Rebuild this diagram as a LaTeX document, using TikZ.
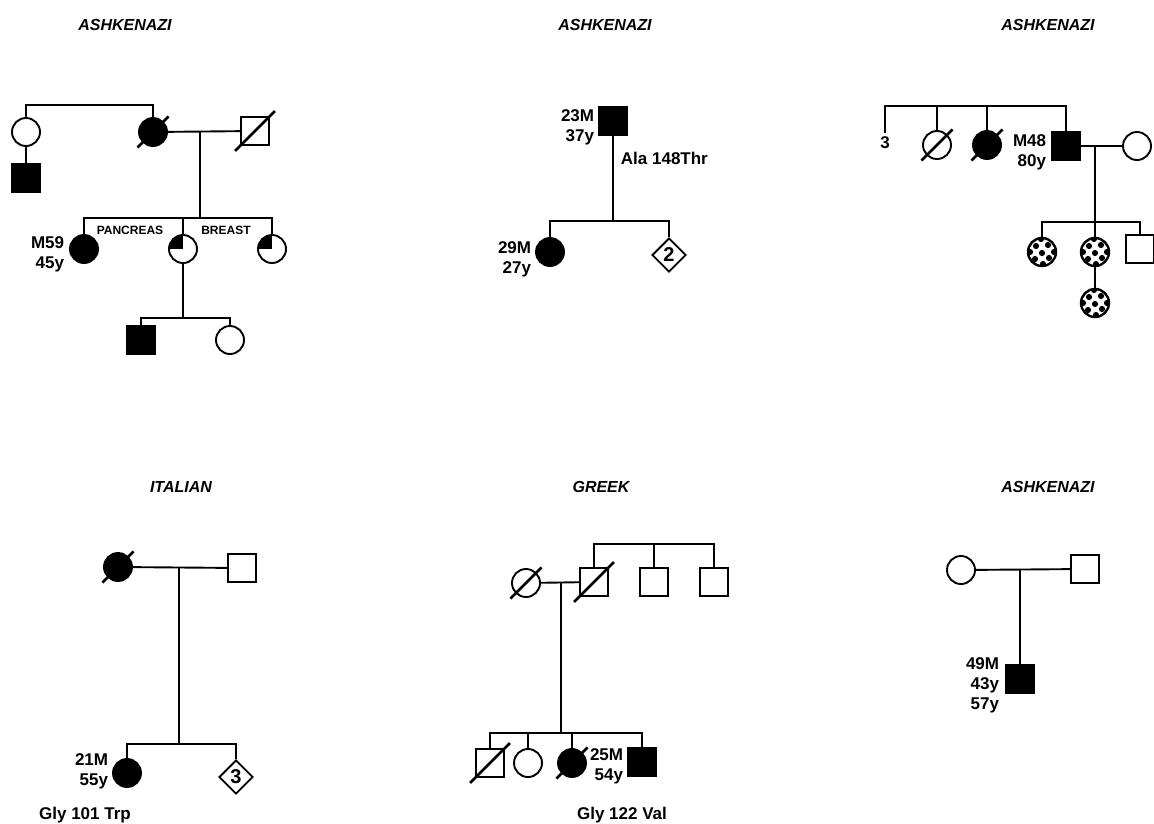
\documentclass[tikz,border=0pt]{standalone}
\usepackage{fontspec}
\setmainfont{Liberation Sans}
\usetikzlibrary{shapes.geometric,calc}
\newcommand{\dead}[1]{\draw[line width=2.6pt] ($(#1.south west)+(-5,5)$) -- ($(#1.north east)+(5,-5)$);}
\begin{document}
\begin{tikzpicture}[x=1pt,y=-1pt,line width=1.9pt,line cap=butt,
  male/.style={draw,rectangle,minimum size=28pt,inner sep=0pt,fill=white},
  fem/.style={draw,circle,minimum size=28pt,inner sep=0pt,fill=white},
  unk/.style={draw,diamond,minimum size=34pt,inner sep=0pt,fill=white,font=\bfseries\fontsize{20}{20}\selectfont},
  aff/.style={fill=black},
  quart/.style={path picture={\fill[black] (path picture bounding box.center) rectangle (path picture bounding box.north west);}},
  spots/.style={line width=2.4pt,path picture={\foreach \dx/\dy in {-6/-6,6/-7,0/1,-7/7,7/6,-1/-13,1/12,-12/0,12/0}
     \fill[black] ([shift={(\dx,\dy)}]path picture bounding box.center) circle (3.1);}},
  lbl/.style={font=\bfseries\fontsize{17}{20}\selectfont,align=right,inner sep=0pt},
  tiny/.style={font=\bfseries\fontsize{12}{12}\selectfont,inner sep=0pt},
  ethn/.style={font=\bfseries\itshape\fontsize{16}{18}\selectfont}]
\useasboundingbox (0,0) rectangle (1154,823);
\node[ethn] at (125,25) {ASHKENAZI};
\node[ethn] at (605,25) {ASHKENAZI};
\node[ethn] at (1048,25) {ASHKENAZI};
\node[ethn] at (181,487) {ITALIAN};
\node[ethn] at (601,487) {GREEK};
\node[ethn] at (1048,487) {ASHKENAZI};
% family 1
\node[fem] (a1) at (26,132) {};
\node[male,aff] (a2) at (26,178) {};
\node[fem,aff] (a3) at (153,132) {};
\node[male] (a4) at (255,131) {};
\coordinate (t1) at (90,105);
\coordinate (m1) at (200,131);
\coordinate (s1) at (200,218);
\draw (a1.north) |- (t1) -| (a3.north);
\draw (a1) -- (a2);
\draw (a3) -- (a4);
\draw (m1) -- (s1);
\dead{a3}\dead{a4}
\node[fem,aff] (b1) at (84,249) {};
\node[fem,quart] (b2) at (183,249) {};
\node[fem,quart] (b3) at (272,249) {};
\draw (b1.north) |- (s1) -| (b3.north);
\draw (b2.north) -- (b2.north |- s1);
\node[lbl,anchor=east,xshift=-4pt,yshift=-5pt] at (b1.west) {M59\\45y};
\node[tiny] at (130,230) {PANCREAS};
\node[tiny] at (226,230) {BREAST};
\node[male,aff] (c1) at (141,340) {};
\node[fem] (c2) at (230,340) {};
\coordinate (s2) at (183,318);
\draw (b2) -- (s2);
\draw (c1.north) |- (s2) -| (c2.north);
% family 2
\node[male,aff] (d1) at (613,121) {};
\node[fem,aff] (d2) at (550,252) {};
\node[unk] (d3) at (669,255) {2};
\coordinate (s3) at (613,221);
\draw (d1) -- (s3);
\draw (d2.north) |- (s3) -| (d3.north);
\node[lbl,anchor=east,xshift=-3pt,yshift=-6pt] at (d1.west) {23M\\37y};
\node[lbl,anchor=west] at (620,158) {Ala 148Thr};
\node[lbl,anchor=east,xshift=-3pt,yshift=-7pt] at (d2.west) {29M\\27y};
% family 3
\node[lbl,inner sep=3pt] (e0) at (885,143) {3};
\node[fem] (e1) at (937,145) {};
\node[fem,aff] (e2) at (987,145) {};
\node[male,aff] (e3) at (1066,146) {};
\node[fem] (e4) at (1137,146) {};
\coordinate (t3) at (960,106);
\draw (e0.north) |- (t3) -| (e3.north);
\draw (e1.north) -- (e1.north |- t3);
\draw (e2.north) -- (e2.north |- t3);
\dead{e1}\dead{e2}
\node[lbl,anchor=east,xshift=-4pt,yshift=-6pt] at (e3.west) {M48\\80y};
\draw (e3) -- (e4);
\coordinate (m3) at (1095,146);
\coordinate (s4) at (1095,222);
\draw (m3) -- (s4);
\node[fem,spots] (f1) at (1042,252) {};
\node[fem,spots] (f2) at (1095,252) {};
\node[male] (f3) at (1140,249) {};
\node[fem,spots] (f4) at (1095,303) {};
\draw (f1.north) |- (s4) -| (f3.north);
\draw (s4) -- (f2);
\draw (f2) -- (f4);
% family 4
\node[fem,aff] (g1) at (118,567) {};
\node[male] (g2) at (242,568) {};
\dead{g1}
\coordinate (m4) at (179,568);
\coordinate (s5) at (179,744);
\draw (g1) -- (g2);
\draw (m4) -- (s5);
\node[fem,aff] (g3) at (127,773) {};
\node[unk] (g4) at (236,777) {3};
\draw (g3.north) |- (s5) -| (g4.north);
\node[lbl,anchor=east,xshift=-3pt,yshift=2pt] at (g3.west) {21M\\55y};
\node[lbl] at (85,815) {Gly 101 Trp};
% family 5
\node[fem] (h1) at (526,583) {};
\node[male] (h2) at (594,582) {};
\node[male] (h3) at (654,582) {};
\node[male] (h4) at (714,582) {};
\coordinate (t5) at (654,544);
\draw (h2.north) |- (t5) -| (h4.north);
\draw (h3.north) -- (t5);
\draw (h1) -- (h2);
\dead{h1}\dead{h2}
\coordinate (m5) at (561,582);
\coordinate (s6) at (561,733);
\draw (m5) -- (s6);
\node[male] (k1) at (490,763) {};
\node[fem] (k2) at (528,763) {};
\node[fem,aff] (k3) at (572,763) {};
\node[male,aff] (k4) at (642,762) {};
\draw (k1.north) |- (s6) -| (k4.north);
\draw (k2.north) -- (k2.north |- s6);
\draw (k3.north) -- (k3.north |- s6);
\dead{k1}\dead{k3}
\node[lbl,anchor=east,xshift=-3pt,yshift=-4pt] at (k4.west) {25M\\54y};
\node[lbl] at (622,815) {Gly 122 Val};
% family 6
\node[fem] (n1) at (961,570) {};
\node[male] (n2) at (1085,569) {};
\coordinate (m6) at (1020,570);
\node[male,aff] (n3) at (1020,679) {};
\draw (n1) -- (n2);
\draw (m6) -- (n3);
\node[lbl,anchor=east,xshift=-5pt,yshift=-6pt] at (n3.west) {49M\\43y\\57y};
\end{tikzpicture}
\end{document}
